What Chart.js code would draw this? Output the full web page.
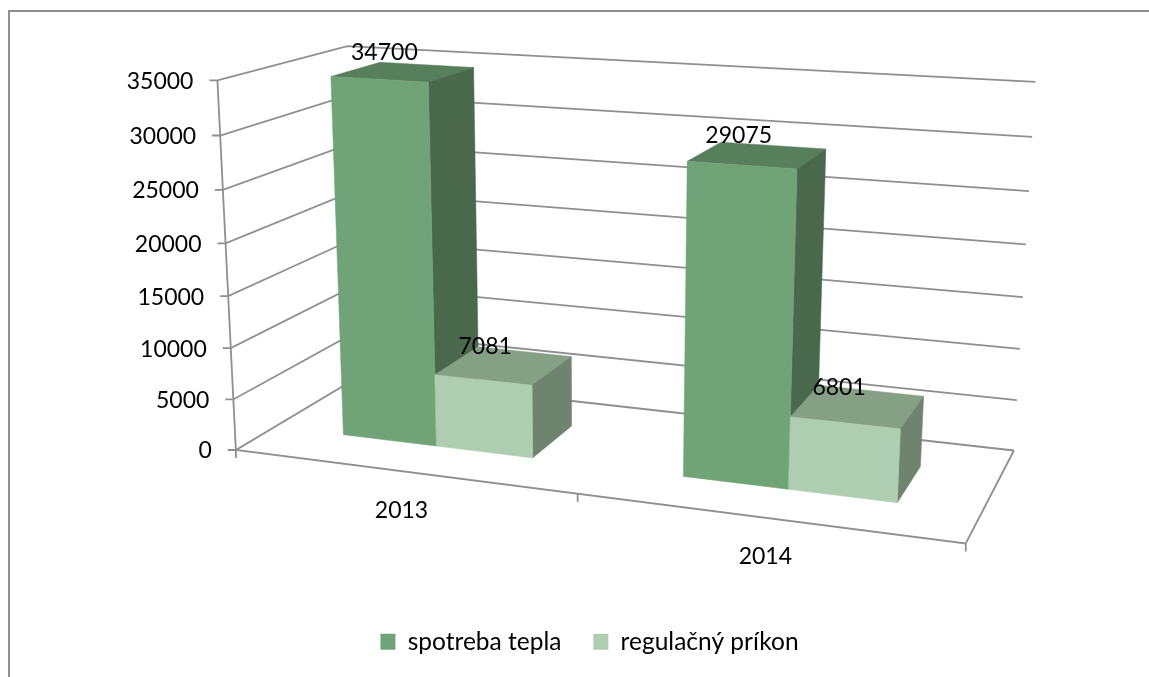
<!DOCTYPE html>
<html>
<head>
<meta charset="utf-8">
<title>spotreba tepla</title>
<script src="https://cdn.jsdelivr.net/npm/chart.js@4/dist/chart.umd.min.js"></script>
<style>
  html, body { margin: 0; padding: 0; background: #fff; overflow: hidden; }
  #wrap { width: 1149px; height: 677px; position: relative; }
</style>
</head>
<body>
<div id="wrap"><canvas id="myChart" width="1149" height="677"></canvas></div>
<script>
var categories = ["2013", "2014"];
var spotrebaTepla = [34700, 29075];
var regulacnyPrikon = [7081, 6801];
var yStep = 5000;
var yMax = 35000;

var fontName = "Lato";
var fontSize = 23;
var legendFontSize = 24.5;
var gridColor = "#8f8f8f";

// face colours of the boxes, by dataset
var faces = [
    { front: "#70a377", top: "#587f5c", side: "#4a684c" },
    { front: "#afcdb1", top: "#86a085", side: "#6f846f" }
];

// depth of the boxes on the floor, 0 = front of the plot, 1 = back wall
var depthFrom = 0.3;
var depthTo = 0.7;

// where the corners of the plot box land on screen: [u, v, w, x, y]
var anchors = [
    [0, 0, 0, 237, 449],
    [1, 0, 0, 966, 544],
    [0, 0, 1, 357, 378],
    [1, 0, 1, 1014, 450],
    [0, 1, 0, 216, 81],
    [0, 1, 1, 349, 45.5],
    [1, 1, 1, 1035, 82]
];

// least squares for the projective camera (11 unknowns)
function solveCamera(pts) {
    var n = 11, A = [], i, j, k;
    for (i = 0; i < n; i++) { A.push(new Array(n + 1).fill(0)); }
    function addRow(r, b) {
        for (var a = 0; a < n; a++) {
            for (var c = 0; c < n; c++) { A[a][c] += r[a] * r[c]; }
            A[a][n] += r[a] * b;
        }
    }
    pts.forEach(function (p) {
        var u = p[0], v = p[1], w = p[2], x = p[3] / 1000, y = p[4] / 1000;
        addRow([u, v, w, 1, 0, 0, 0, 0, -x * u, -x * v, -x * w], x);
        addRow([0, 0, 0, 0, u, v, w, 1, -y * u, -y * v, -y * w], y);
    });
    for (i = 0; i < n; i++) {
        var best = i;
        for (j = i + 1; j < n; j++) { if (Math.abs(A[j][i]) > Math.abs(A[best][i])) best = j; }
        var t = A[i]; A[i] = A[best]; A[best] = t;
        for (j = 0; j < n; j++) {
            if (j === i) continue;
            var f = A[j][i] / A[i][i];
            for (k = i; k <= n; k++) { A[j][k] -= f * A[i][k]; }
        }
    }
    return A.map(function (row, m) { return row[n] / row[m]; });
}

var cam = solveCamera(anchors);

function project(u, v, w) {
    var d = cam[8] * u + cam[9] * v + cam[10] * w + 1;
    return {
        x: 1000 * (cam[0] * u + cam[1] * v + cam[2] * w + cam[3]) / d,
        y: 1000 * (cam[4] * u + cam[5] * v + cam[6] * w + cam[7]) / d
    };
}

function line(ctx, pts) {
    ctx.beginPath();
    pts.forEach(function (p, i) {
        if (i === 0) ctx.moveTo(p.x, p.y); else ctx.lineTo(p.x, p.y);
    });
    ctx.stroke();
}

function poly(ctx, pts, color) {
    ctx.fillStyle = color;
    ctx.strokeStyle = color;
    ctx.lineWidth = 0.5;
    ctx.beginPath();
    pts.forEach(function (p, i) {
        if (i === 0) ctx.moveTo(p.x, p.y); else ctx.lineTo(p.x, p.y);
    });
    ctx.closePath();
    ctx.fill();
    ctx.stroke();
}

var box3d = {
    id: "box3d",
    beforeDatasetsDraw: function (chart) {
        var ctx = chart.ctx, area = chart.chartArea;
        var xs = chart.scales.x, ys = chart.scales.y;
        function U(px) { return (px - area.left) / area.width; }
        function V(px) { return (area.bottom - px) / area.height; }

        ctx.save();
        // outer frame of the chart
        ctx.strokeStyle = gridColor;
        ctx.lineWidth = 2;
        ctx.beginPath();
        ctx.moveTo(9, 677);
        ctx.lineTo(9, 11);
        ctx.lineTo(1149, 11);
        ctx.stroke();

        // walls and y tick labels
        ctx.lineWidth = 1.8;
        ctx.strokeStyle = gridColor;
        ctx.font = fontSize + "px " + fontName;
        ctx.fillStyle = "#000";
        ys.ticks.forEach(function (t) {
            var v = V(ys.getPixelForValue(t.value));
            var a = project(0, v, 0), b = project(0, v, 1), c = project(1, v, 1);
            line(ctx, [{ x: a.x - 8, y: a.y }, a, b, c]);
            ctx.textAlign = "right";
            ctx.textBaseline = "middle";
            ctx.fillText(String(t.value), a.x - 24, a.y + 1);
        });

        // front left edge, floor edges and category ticks
        line(ctx, [project(0, 1, 0), project(0, 0, 0), project(1, 0, 0), project(1, 0, 1)]);
        [0, 0.5, 1].forEach(function (u) {
            var p = project(u, 0, 0);
            line(ctx, [p, { x: p.x, y: p.y + 8 }]);
        });

        // category labels
        ctx.textAlign = "center";
        categories.forEach(function (c, i) {
            var p = project(U(xs.getPixelForValue(i)), 0, 0);
            ctx.fillText(c, p.x, p.y + 39);
        });

        // boxes, left to right
        categories.forEach(function (c, i) {
            chart.data.datasets.forEach(function (ds, d) {
                var el = chart.getDatasetMeta(d).data[i];
                var p = el.getProps(["x", "y", "width"], true);
                var u0 = U(p.x - p.width / 2), u1 = U(p.x + p.width / 2), v = V(p.y);
                var col = faces[d];
                var fb0 = project(u0, 0, depthFrom), fb1 = project(u1, 0, depthFrom);
                var ft0 = project(u0, v, depthFrom), ft1 = project(u1, v, depthFrom);
                var bt0 = project(u0, v, depthTo), bt1 = project(u1, v, depthTo);
                var bb1 = project(u1, 0, depthTo);
                poly(ctx, [ft0, bt0, bt1, ft1], col.top);
                poly(ctx, [ft1, bt1, bb1, fb1], col.side);
                poly(ctx, [fb0, fb1, ft1, ft0], col.front);
            });
        });

        // value labels, over the boxes
        ctx.fillStyle = "#000";
        ctx.textAlign = "center";
        ctx.textBaseline = "middle";
        chart.data.datasets.forEach(function (ds, d) {
            chart.getDatasetMeta(d).data.forEach(function (el, i) {
                var p = el.getProps(["x", "y"], true);
                var c = project(U(p.x), V(p.y), (depthFrom + depthTo) / 2);
                ctx.fillText(String(ds.data[i]), c.x - 19, c.y - 19);
            });
        });
        ctx.restore();
        return false;
    }
};

var ctx = document.getElementById("myChart").getContext("2d");
var chart = new Chart(ctx, {
    type: "bar",
    data: {
        labels: categories,
        datasets: [
            { label: "spotreba tepla", data: spotrebaTepla, backgroundColor: faces[0].front },
            { label: "regulačný príkon", data: regulacnyPrikon, backgroundColor: faces[1].front }
        ]
    },
    options: {
        responsive: false,
        animation: false,
        // bars are 2 of 3.5 units of a category, as with a 150 % gap
        datasets: { bar: { categoryPercentage: 2 / 3.5, barPercentage: 1 } },
        layout: { padding: { left: 30, bottom: 13 } },
        scales: {
            x: { display: false },
            y: { display: false, min: 0, max: yMax, ticks: { stepSize: yStep } }
        },
        plugins: {
            tooltip: { enabled: false },
            legend: {
                position: "bottom",
                labels: {
                    boxWidth: 15,
                    boxHeight: 16,
                    padding: 32,
                    color: "#000",
                    font: { family: fontName, size: legendFontSize }
                }
            }
        }
    },
    plugins: [box3d]
});
</script>
</body>
</html>
